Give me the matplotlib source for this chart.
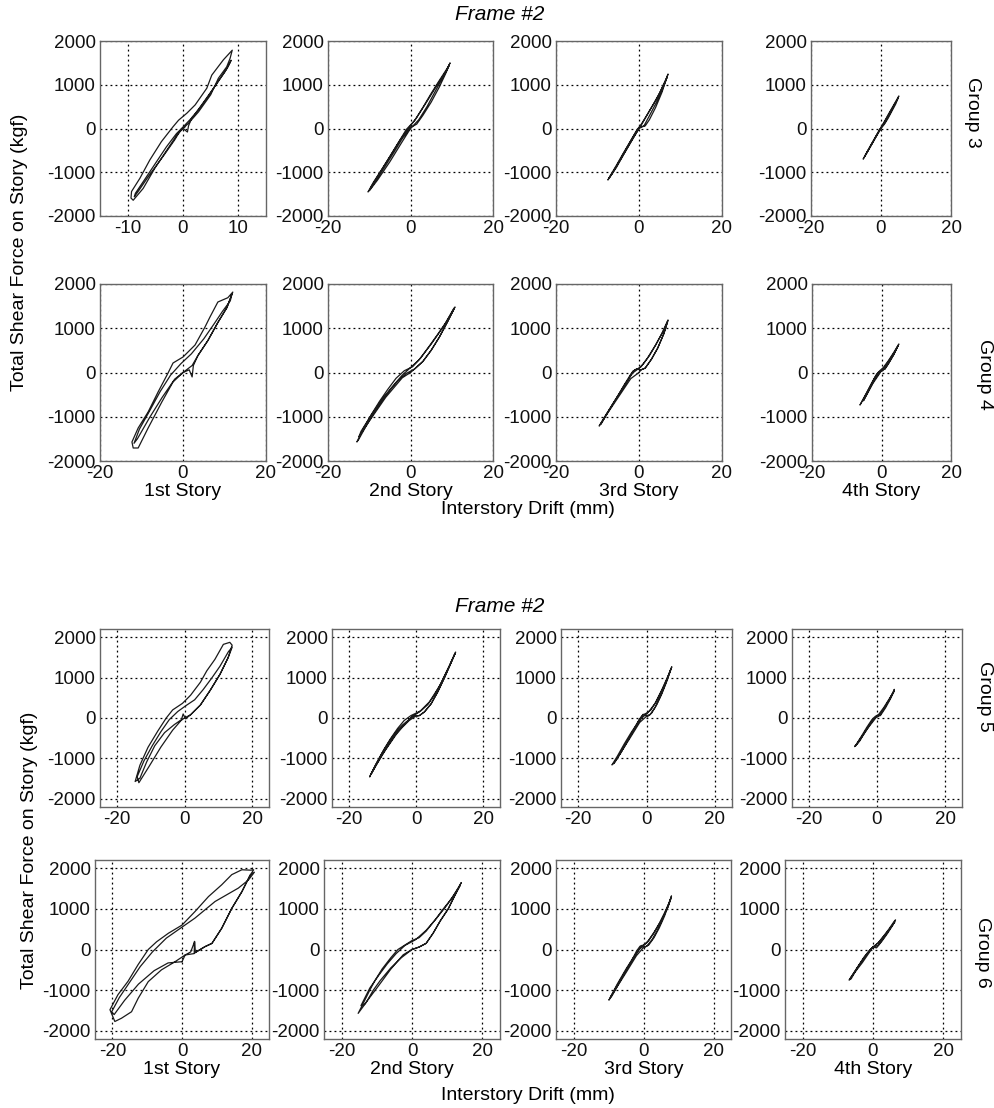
import matplotlib
matplotlib.use("Agg")
import matplotlib.pyplot as plt

plt.rcParams['font.family'] = ['Liberation Sans', 'DejaVu Sans']
plt.rcParams['axes.unicode_minus'] = False

W, H = 994, 1108

stories = ["1st Story", "2nd Story", "3rd Story", "4th Story"]
groups = ["Group 3", "Group 4", "Group 5", "Group 6"]
force_ticks = [-2000, -1000, 0, 1000, 2000]

# ---- hysteresis traces (drift in mm, force in kgf) ----
g3_s1_drift = [0.0, 1.0, 2.8, 5.0, 6.4, 7.9, 8.5, 8.9, 7.3, 5.2, 4.3, 2.2, 0.7, -0.8, -1.8, -3.9, -6.0, -7.8, -9.3, -9.4,
               -9.0, -7.2, -5.1, -2.9, -1.1, 0.0, 0.8, 1.0, 1.6, 3.0, 4.8, 6.6, 8.0, 8.7, 8.4, 7.6, 6.0, 4.0, 2.0, 0.2,
               -1.2, -3.0, -5.0, -7.0, -8.6, -8.8, -8.0, -6.0, -3.5, -1.5, -0.5, 0.3]
g3_s1_force = [0, 120, 380, 770, 1150, 1410, 1600, 1790, 1570, 1220, 920, 540, 350, 190, 40, -300, -720, -1140, -1440, -1590,
               -1640, -1370, -910, -490, -150, 0, -80, 60, 250, 460, 780, 1120, 1380, 1560, 1480, 1300, 1010, 650, 300, 60,
               -120, -420, -800, -1180, -1480, -1560, -1420, -1050, -620, -260, -50, 30]

g3_s2_drift = [0.0, 2.0, 4.0, 6.0, 8.0, 9.6, 9.2, 7.0, 5.0, 3.0, 1.0, -1.0, -3.0, -5.0, -7.0, -9.0, -10.3,
               -9.8, -8.0, -6.0, -4.0, -2.0, 0.0, 1.5, 3.0, 5.0, 7.0, 8.5, 9.4, 8.8, 6.5, 4.0, 1.5, -0.5, -2.5, -5.0,
               -7.5, -9.5, -9.8, -8.0, -5.0, -2.0, 0.0]
g3_s2_force = [0, 200, 500, 850, 1200, 1500, 1420, 1100, 800, 480, 180, -20, -330, -640, -940, -1230, -1450,
               -1400, -1130, -840, -540, -230, 20, 100, 300, 600, 950, 1250, 1450, 1330, 1000, 620, 250, 0, -260, -640,
               -1020, -1330, -1400, -1180, -760, -300, 0]

g3_s3_drift = [0.0, 0.8, 1.5, 2.5, 4.0, 5.5, 7.0, 6.6, 5.0, 3.5, 2.0, 0.5, -0.5, -2.0, -3.5, -5.0, -6.5, -7.5,
               -7.0, -5.5, -4.0, -2.5, -1.0, 0.0, 1.2, 2.5, 4.0, 5.5, 6.8, 6.2, 4.5, 2.5, 0.5, -1.5, -3.5, -5.5, -7.2,
               -6.5, -4.0, -1.5, 0.0]
g3_s3_force = [0, 40, 60, 200, 480, 820, 1245, 1150, 820, 560, 320, 90, -30, -280, -530, -790, -1040, -1177,
               -1090, -850, -600, -360, -120, 20, 60, 290, 560, 860, 1180, 1050, 720, 400, 70, -230, -560, -900, -1130,
               -1030, -640, -240, 0]

g3_s4_drift = [0.0, 1.0, 2.0, 3.0, 4.2, 5.1, 4.8, 3.5, 2.0, 0.5, -0.8, -2.0, -3.2, -4.3, -5.1,
               -4.8, -3.5, -2.2, -1.0, 0.0, 1.0, 2.2, 3.5, 4.9, 4.5, 3.0, 1.5, 0.0, -1.5, -3.0, -4.6, -4.0, -2.0, 0.0]
g3_s4_force = [0, 100, 230, 380, 560, 743, 700, 520, 310, 90, -80, -250, -420, -580, -700,
               -660, -480, -300, -120, 20, 120, 290, 480, 700, 640, 430, 220, 20, -190, -400, -630, -550, -270, 0]

g4_s1_drift = [0.0, 2.2, 3.6, 6.0, 8.4, 10.6, 12.0, 10.8, 8.4, 6.5, 5.3, 2.9, 0.0, -2.4, -3.6, -6.0, -8.4, -10.8, -12.3,
               -12.0, -10.8, -8.4, -5.1, -2.4, 0.0, 1.5, 2.2, 2.5, 3.6, 6.0, 8.4, 10.6, 11.8, 11.4, 9.5, 7.5, 5.0, 2.0,
               -0.5, -3.0, -5.5, -8.0, -10.5, -11.8, -11.0, -8.0, -5.0, -2.0, 0.0]
g4_s1_force = [0, 158, 384, 723, 1130, 1469, 1818, 1690, 1593, 1254, 1028, 621, 350, 215, -11, -440, -892, -1254, -1570,
               -1706, -1706, -1254, -666, -214, 0, 60, -100, 158, 384, 723, 1130, 1469, 1780, 1620, 1380, 1100, 760, 420,
               200, -60, -430, -860, -1280, -1600, -1500, -1010, -560, -150, 0]

g4_s2_drift = [0.0, 1.0, 3.0, 5.0, 7.0, 9.0, 10.8, 10.5, 8.5, 6.5, 4.5, 2.5, 0.5, -1.5, -3.5, -5.5, -7.5, -9.5,
               -11.5, -13.0, -12.6, -11.0, -9.0, -7.0, -5.0, -3.0, -1.0, 0.0, 1.0, 3.0, 5.0, 7.0, 9.0, 10.5, 10.2,
               8.0, 5.0, 2.0, 0.0, -2.0, -4.5, -7.0, -9.5, -12.0, -12.5, -10.0, -6.0, -2.0, 0.0]
g4_s2_force = [0, 80, 250, 500, 800, 1150, 1480, 1450, 1120, 850, 590, 330, 130, 40, -130, -380, -650, -950,
               -1280, -1570, -1520, -1250, -930, -650, -400, -180, -20, 30, 80, 250, 500, 800, 1150, 1430, 1380,
               1040, 640, 280, 110, -60, -330, -620, -960, -1330, -1450, -1100, -560, -120, 0]

g4_s3_drift = [0.0, 0.5, 1.5, 3.0, 4.5, 6.0, 7.0, 6.8, 5.5, 4.0, 2.5, 1.0, 0.0, -1.0, -2.0, -3.5, -5.0, -7.0, -9.0,
               -9.6, -8.0, -6.0, -4.0, -2.5, -1.5, -0.5, 0.5, 1.5, 3.0, 4.5, 6.0, 6.9, 6.0, 4.0, 2.0, 0.5, -1.5, -3.5,
               -5.5, -7.5, -9.2, -8.0, -5.0, -2.0, 0.0]
g4_s3_force = [0, 60, 100, 300, 550, 880, 1187, 1150, 880, 620, 380, 190, 100, 60, -40, -270, -510, -820, -1120,
               -1210, -960, -660, -380, -150, 30, 80, 60, 100, 300, 550, 880, 1150, 960, 620, 320, 130, -10, -280,
               -590, -900, -1170, -980, -560, -140, 0]

g4_s4_drift = [0.0, 1.0, 2.0, 3.5, 5.0, 4.8, 3.5, 2.0, 0.5, -0.5, -1.5, -3.0, -4.5, -6.0, -6.2, -5.0, -3.5, -2.0,
               -1.0, 0.0, 1.0, 2.0, 3.5, 4.8, 4.2, 2.5, 1.0, -0.5, -2.0, -3.5, -5.2, -4.5, -2.5, 0.0]
g4_s4_force = [40, 80, 200, 400, 644, 620, 450, 270, 110, 40, -50, -270, -500, -710, -735, -560, -340, -120,
               0, 40, 80, 200, 400, 610, 520, 310, 130, 10, -160, -380, -640, -540, -250, 40]

g5_s1_drift = [0.0, 1.8, 4.7, 7.6, 10.5, 12.9, 14.1, 13.4, 11.5, 9.0, 6.6, 4.7, 1.8, -0.6, -3.5, -5.4, -7.9, -10.8,
               -13.2, -14.6, -13.2, -11.2, -8.8, -5.9, -3.0, -0.9, -0.4, 0.3, 1.8, 4.7, 7.6, 10.5, 12.9, 14.1, 13.0,
               10.5, 8.0, 5.5, 3.0, 0.5, -2.0, -4.5, -7.0, -9.5, -12.0, -14.0, -13.5, -10.5, -7.0, -3.5, -1.0, 0.0]
g5_s1_force = [0, 80, 321, 684, 1080, 1490, 1800, 1870, 1820, 1450, 1167, 884, 563, 362, 200, 0, -322, -725,
               -1169, -1570, -1490, -1087, -686, -362, -162, -41, 100, -20, 80, 321, 684, 1080, 1490, 1750, 1640,
               1280, 980, 700, 450, 310, 160, -40, -340, -680, -1060, -1450, -1600, -1200, -720, -300, -60, 0]

g5_s2_drift = [0.0, 1.0, 2.5, 4.5, 6.5, 8.5, 10.5, 11.8, 11.5, 9.5, 7.5, 5.5, 3.5, 1.5, 0.0, -1.5, -3.5, -5.5,
               -7.5, -9.5, -11.5, -13.5, -13.8, -12.0, -10.0, -8.0, -6.0, -4.0, -2.0, -1.0, 0.0, 1.0, 2.5, 4.5, 6.5,
               8.5, 10.5, 11.6, 10.0, 7.0, 4.0, 1.0, -1.0, -3.0, -6.0, -9.0, -12.0, -13.3, -10.0, -6.0, -2.0, 0.0]
g5_s2_force = [50, 60, 150, 350, 650, 1000, 1380, 1630, 1580, 1220, 870, 570, 330, 180, 120, 60, -60, -260,
               -500, -770, -1080, -1400, -1457, -1150, -850, -580, -350, -170, -40, 50, 50, 60, 150, 350, 650,
               1000, 1380, 1590, 1290, 790, 400, 150, 40, -110, -420, -780, -1180, -1380, -900, -390, -60, 50]

g5_s3_drift = [0.0, 0.5, 1.5, 3.0, 4.5, 6.0, 7.4, 7.1, 5.8, 4.3, 2.8, 1.3, 0.0, -1.0, -2.0, -3.5, -5.0, -7.0,
               -9.0, -10.1, -8.5, -6.5, -4.5, -3.0, -2.0, -1.0, 0.0, 1.0, 2.5, 4.0, 5.5, 7.2, 6.5, 4.5, 2.5, 0.5,
               -1.5, -3.5, -5.5, -7.5, -9.6, -8.0, -5.0, -2.0, 0.0]
g5_s3_force = [40, 50, 120, 330, 600, 920, 1267, 1200, 920, 650, 400, 200, 120, 80, -20, -250, -480, -780,
               -1060, -1160, -940, -640, -360, -170, -30, 90, 60, 80, 260, 520, 830, 1230, 1080, 700, 360, 140,
               -10, -270, -560, -860, -1130, -920, -520, -110, 40]

g5_s4_drift = [0.0, 1.0, 2.0, 3.5, 5.1, 4.9, 3.5, 2.0, 0.5, -0.5, -1.5, -3.0, -4.5, -6.0, -6.6, -5.5, -4.0, -2.5,
               -1.0, 0.0, 1.0, 2.5, 4.0, 5.0, 4.2, 2.5, 1.0, -0.5, -2.0, -3.5, -5.0, -6.3, -5.0, -2.5, 0.0]
g5_s4_force = [40, 90, 220, 430, 708, 650, 460, 260, 90, 40, -40, -230, -440, -640, -708, -600, -420, -220,
               -20, 40, 60, 250, 480, 660, 540, 300, 100, 10, -140, -330, -560, -690, -520, -230, 40]

g6_s1_drift = [0.0, 0.9, 2.5, 3.6, 3.7, 6.6, 8.6, 11.4, 14.3, 17.2, 19.6, 20.6, 19.8, 17.2, 14.3, 11.4, 7.6, 3.7,
               0.0, -3.9, -7.3, -9.7, -12.6, -15.5, -18.4, -20.7, -19.3, -17.4, -14.5, -12.6, -9.7, -5.9, -2.0, 0.9,
               3.5, 3.6, 3.7, 6.6, 8.6, 11.4, 14.3, 17.2, 19.6, 20.8, 19.1, 16.2, 9.5, 3.7, 0.0, -4.5, -8.5, -12.0,
               -15.0, -18.0, -20.2, -19.5, -16.5, -12.5, -8.0, -4.0, 0.0]
g6_s1_force = [-300, -135, -60, 190, -80, 70, 150, 520, 1010, 1420, 1830, 1960, 1950, 1960, 1840, 1590, 1300, 930,
               600, 400, 190, 0, -370, -780, -1110, -1480, -1770, -1690, -1530, -1200, -790, -500, -300, -135,
               -100, 200, -80, 70, 150, 520, 1010, 1420, 1830, 1900, 1710, 1510, 1180, 770, 550, 280, -60, -420,
               -800, -1180, -1530, -1600, -1250, -850, -520, -330, -300]

g6_s2_drift = [0.0, 2.0, 4.0, 6.0, 8.0, 10.3, 12.0, 14.0, 13.7, 11.5, 8.9, 6.5, 4.0, 2.0, 0.0, -2.0, -4.0, -6.0,
               -8.5, -10.5, -12.0, -14.0, -15.3, -13.0, -11.0, -9.0, -6.0, -3.0, 0.0, 2.0, 4.0, 6.0, 8.0, 10.3, 12.0,
               13.6, 12.5, 10.0, 7.0, 4.0, 1.0, -2.0, -4.5, -7.0, -9.5, -12.0, -14.5, -13.5, -10.0, -6.0, -2.5, 0.0]
g6_s2_force = [0, 60, 150, 400, 700, 1000, 1300, 1645, 1600, 1280, 1000, 720, 450, 290, 220, 110, 0, -200,
               -480, -760, -1000, -1350, -1570, -1300, -1000, -760, -450, -200, 0, 60, 150, 400, 700, 1000, 1300,
               1560, 1420, 1100, 770, 470, 240, 100, -100, -350, -640, -950, -1380, -1350, -950, -480, -130, 0]

g6_s3_drift = [0.0, 1.0, 2.5, 4.0, 5.5, 7.0, 8.0, 7.6, 6.0, 4.5, 3.0, 1.5, 0.0, -1.0, -2.0, -3.5, -5.5, -7.5,
               -9.9, -9.0, -7.0, -5.0, -3.0, -1.5, -0.5, 0.5, 1.5, 3.0, 4.5, 6.0, 7.8, 7.0, 5.0, 3.0, 1.0, -1.0, -3.0,
               -5.0, -7.5, -9.5, -8.0, -5.0, -2.0, 0.0]
g6_s3_force = [50, 90, 250, 480, 760, 1080, 1318, 1200, 900, 640, 410, 220, 110, 80, -40, -290, -580, -880,
               -1244, -1140, -830, -520, -230, -20, 100, 60, 110, 290, 530, 820, 1250, 1040, 700, 420, 170, 20, -210,
               -480, -850, -1180, -980, -570, -150, 50]

g6_s4_drift = [0.0, 1.0, 2.5, 4.0, 5.5, 6.4, 6.0, 4.5, 3.0, 1.5, 0.0, -1.0, -2.5, -4.0, -5.5, -6.8, -6.2, -4.5,
               -3.0, -1.5, 0.0, 1.5, 3.0, 4.5, 6.2, 5.2, 3.5, 1.5, -0.5, -2.5, -4.5, -6.5, -5.5, -3.0, 0.0]
g6_s4_force = [60, 40, 200, 380, 580, 727, 690, 500, 330, 160, 60, -20, -180, -380, -580, -751, -720, -460,
               -260, -80, 60, 100, 280, 470, 680, 560, 370, 170, 20, -200, -450, -720, -600, -320, 60]

traces = [
    [(g3_s1_drift, g3_s1_force), (g3_s2_drift, g3_s2_force), (g3_s3_drift, g3_s3_force), (g3_s4_drift, g3_s4_force)],
    [(g4_s1_drift, g4_s1_force), (g4_s2_drift, g4_s2_force), (g4_s3_drift, g4_s3_force), (g4_s4_drift, g4_s4_force)],
    [(g5_s1_drift, g5_s1_force), (g5_s2_drift, g5_s2_force), (g5_s3_drift, g5_s3_force), (g5_s4_drift, g5_s4_force)],
    [(g6_s1_drift, g6_s1_force), (g6_s2_drift, g6_s2_force), (g6_s3_drift, g6_s3_force), (g6_s4_drift, g6_s4_force)],
]

# axes boxes in pixels: (left, right) per column, (top, bottom) per row
row_tb = [(41, 216), (284, 461), (629, 807), (860, 1039)]
col_lr = [
    [(100, 266), (328, 493), (556, 722), (811, 951)],
    [(100, 266), (328, 493), (556, 722), (812, 951)],
    [(100, 269), (332, 500), (561, 732), (792, 962)],
    [(95, 269), (324, 500), (556, 731), (785, 961)],
]

fig = plt.figure(figsize=(W / 100, H / 100), dpi=100)


def fx(px):
    return px / W


def fy(py):
    return 1 - py / H


for r in range(4):
    top, bot = row_tb[r]
    for c in range(4):
        left, right = col_lr[r][c]
        ax = fig.add_axes([fx(left), fy(bot), fx(right) - fx(left), fy(top) - fy(bot)])
        d, f = traces[r][c]
        ax.plot(d, f, color='#1a1a1a', lw=0.9)
        if r < 2:
            ax.set_ylim(-2000, 2000)
            if r == 0 and c == 0:
                ax.set_xlim(-15, 15)
                ax.set_xticks([-10, 0, 10])
            else:
                ax.set_xlim(-20, 20)
                ax.set_xticks([-20, 0, 20])
        else:
            ax.set_ylim(-2200, 2200)
            ax.set_xlim(-25, 25)
            ax.set_xticks([-20, 0, 20])
        ax.set_yticks(force_ticks)
        ax.grid(True, linestyle=(0, (1.5, 2.5)), color='k', lw=0.9)
        ax.tick_params(length=0, labelsize=13.5, pad=3, colors='#111')
        for s in ax.spines.values():
            s.set_color('#666666')
            s.set_linewidth(1.0)

# text labels
for by, frame_y, ylab_x, ylab_y, xlab_y, story_y in [(0, 15, 20, 252, 510, 491), (1, 607, 30, 850, 1096, 1069)]:
    fig.text(fx(500), fy(frame_y), "Frame #2", ha='center', va='center', fontsize=15, style='italic')
    fig.text(fx(ylab_x), fy(ylab_y), "Total Shear Force on Story (kgf)", rotation=90,
             ha='center', va='center', fontsize=14)
    fig.text(fx(528), fy(xlab_y), "Interstory Drift (mm)", ha='center', va='center', fontsize=14)
    for c in range(4):
        left, right = col_lr[2 * by + 1][c]
        fig.text(fx((left + right) / 2), fy(story_y), stories[c], ha='center', va='center', fontsize=14)

group_pos = [(972, 112), (985, 374), (985, 696), (983, 952)]
for g, (gx, gy) in zip(groups, group_pos):
    fig.text(fx(gx), fy(gy), g, rotation=270, ha='center', va='center', fontsize=14)

fig.savefig("out.png", dpi=100, facecolor='white')
